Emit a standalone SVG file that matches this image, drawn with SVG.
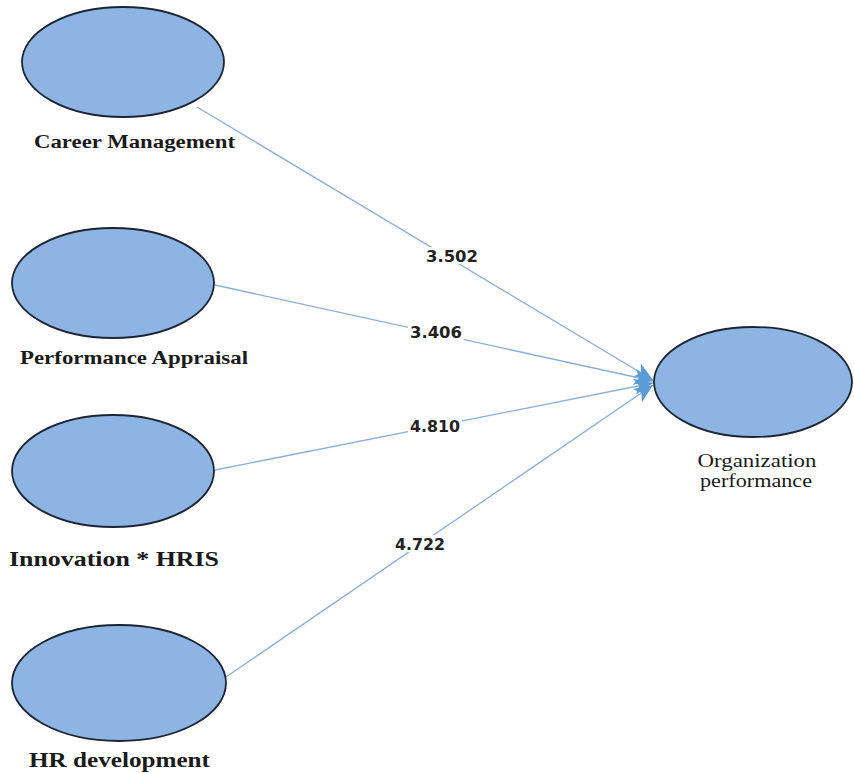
<svg xmlns="http://www.w3.org/2000/svg" width="854" height="774" viewBox="0 0 854 774">
<defs>
<style>
.node{fill:#8db4e2;stroke:#1c2533;stroke-width:1.8}
.edge{stroke:#8aaed6;stroke-width:1.3;fill:none}
.lbl{font-family:"Liberation Serif","Times New Roman",serif;font-weight:bold;fill:#1a1a1a}
.lbl2{font-family:"Liberation Serif","Times New Roman",serif;font-weight:normal;fill:#1a1a1a;font-size:18px;text-anchor:middle}
.w{font-family:"DejaVu Sans",Verdana,sans-serif;font-weight:bold;font-size:15px;fill:#222}
.bg{fill:#ffffff}
</style>
<marker id="arr" markerUnits="userSpaceOnUse" markerWidth="24" markerHeight="24" viewBox="0 0 24 24" refX="22" refY="12" orient="auto">
<path d="M3,4 L22,12 L3,20 L8,12 z" fill="#5b9bd5"/>
</marker>
</defs>
<rect width="854" height="774" fill="#ffffff"/>
<g id="connectors">
<line class="edge" x1="197" y1="107" x2="653" y2="380" marker-end="url(#arr)"/>
<line class="edge" x1="215" y1="285" x2="653" y2="381" marker-end="url(#arr)"/>
<line class="edge" x1="215" y1="470" x2="653" y2="383" marker-end="url(#arr)"/>
<line class="edge" x1="226" y1="677" x2="653" y2="385" marker-end="url(#arr)"/>
<rect class="bg" x="424" y="247" width="56" height="17"/>
<text class="w" x="426" y="262" textLength="52" lengthAdjust="spacingAndGlyphs">3.502</text>
<rect class="bg" x="408" y="324" width="56" height="16"/>
<text class="w" x="410" y="338" textLength="52" lengthAdjust="spacingAndGlyphs">3.406</text>
<rect class="bg" x="408" y="418" width="54" height="16"/>
<text class="w" x="410" y="432" textLength="50" lengthAdjust="spacingAndGlyphs">4.810</text>
<rect class="bg" x="393" y="535" width="54" height="17"/>
<text class="w" x="395" y="550" textLength="50" lengthAdjust="spacingAndGlyphs">4.722</text>
</g>
<g id="career">
<ellipse class="node" cx="123" cy="62" rx="101" ry="55"/>
<text class="lbl" x="34" y="148" font-size="18" textLength="201" lengthAdjust="spacingAndGlyphs">Career Management</text>
</g>
<g id="appraisal">
<ellipse class="node" cx="113" cy="283" rx="101" ry="55"/>
<text class="lbl" x="20" y="364" font-size="19" textLength="228" lengthAdjust="spacingAndGlyphs">Performance Appraisal</text>
</g>
<g id="innovation">
<ellipse class="node" cx="113" cy="471" rx="101" ry="56"/>
<text class="lbl" x="9" y="566" font-size="21" textLength="210" lengthAdjust="spacingAndGlyphs">Innovation * HRIS</text>
</g>
<g id="hrdev">
<ellipse class="node" cx="119" cy="683" rx="107" ry="58"/>
<text class="lbl" x="29" y="767" font-size="21" textLength="181" lengthAdjust="spacingAndGlyphs">HR development</text>
</g>
<g id="orgperf">
<ellipse class="node" cx="753" cy="382" rx="99" ry="55"/>
<text class="lbl2" x="757" y="467" textLength="119" lengthAdjust="spacingAndGlyphs">Organization</text>
<text class="lbl2" x="756" y="487" textLength="112" lengthAdjust="spacingAndGlyphs">performance</text>
</g>
</svg>
